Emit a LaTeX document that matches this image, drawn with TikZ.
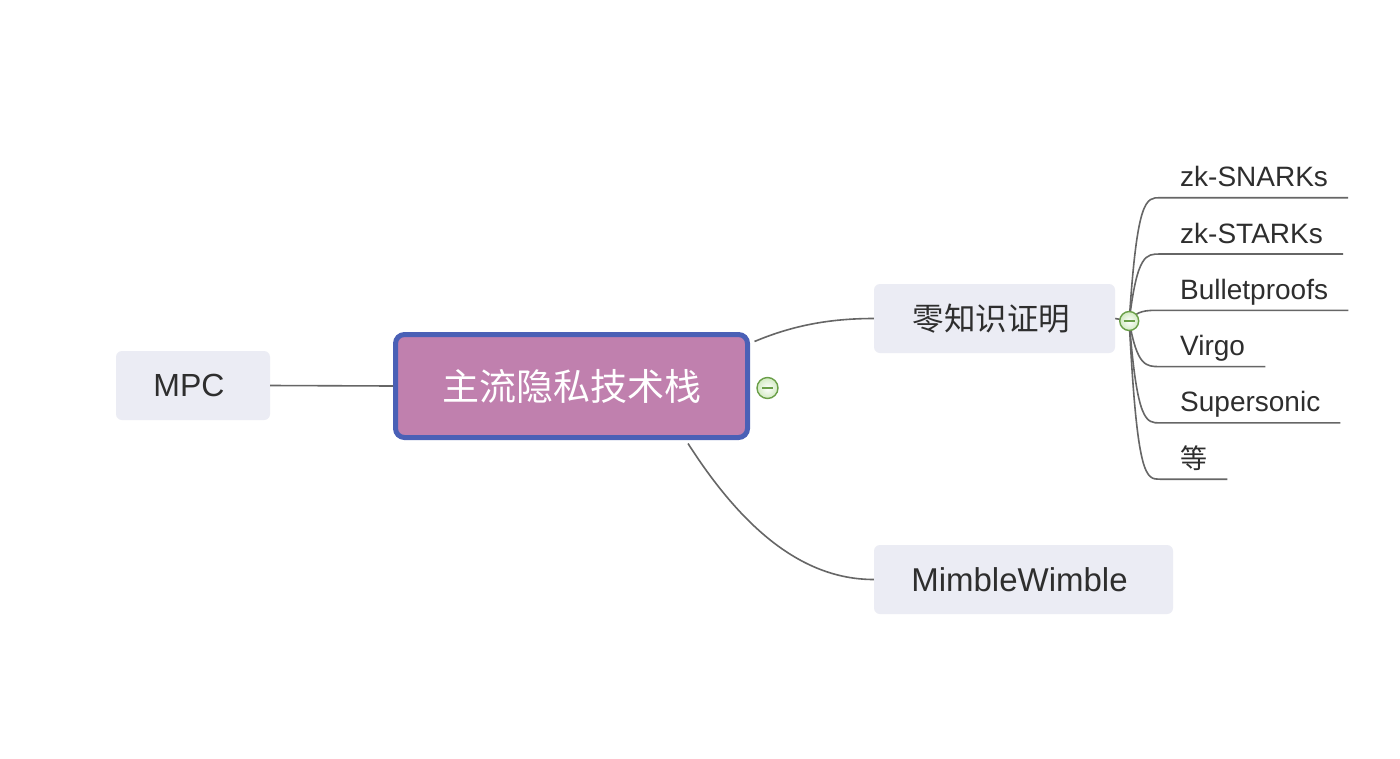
\documentclass[tikz,border=0pt]{standalone}
\usepackage{fontspec}
\setmainfont{Liberation Sans}
\newfontfamily\cjk{Noto Sans CJK SC}
\usetikzlibrary{calc}
\definecolor{boxfill}{HTML}{EBECF4}
\definecolor{mainfill}{HTML}{C080AE}
\definecolor{mainborder}{HTML}{4A60B6}
\definecolor{txt}{HTML}{2E2E2E}
\definecolor{lineclr}{HTML}{666666}
\definecolor{icongreen}{HTML}{6A9F48}
\definecolor{iconfill}{HTML}{D2EAC2}
\begin{document}
\begin{tikzpicture}[x=1pt,y=-1pt,
  topic/.style={fill=boxfill, rounded corners=6pt, text=txt, minimum height=69pt, inner sep=0pt},
  mainbox/.style={fill=mainfill, draw=mainborder, line width=5pt, rounded corners=9pt,
    minimum width=352pt, minimum height=103pt, text=white, inner sep=0pt,
    font=\cjk\fontsize{37}{40}\selectfont},
  leaf/.style={anchor=base west, inner sep=0pt, text=txt, font=\fontsize{28}{30}\selectfont},
  connector/.style={draw=lineclr, line width=1.6pt},
  toggle/.style={circle, draw=icongreen, line width=1.4pt, inner color=white, outer color=iconfill,
    minimum size=21pt, inner sep=0pt,
    path picture={\draw[icongreen, line width=1.5pt]
      ($(path picture bounding box.center)+(-5.5,0)$) -- ++(11,0);}}
]
\useasboundingbox (0,0) rectangle (1400,758);
\fill[white] (0,0) rectangle (1400,758);

% topics
\node[mainbox] (main) at (571.5,386) {主流隐私技术栈};
\node[topic, minimum width=154pt, font=\fontsize{32}{36}\selectfont] (mpc) at (193,385.5) {MPC\hspace*{8pt}};
\node[topic, minimum width=241pt, font=\cjk\fontsize{31.5}{36}\selectfont] (zk) at (994.5,318.5) {零知识证明\hspace*{6pt}};
\node[topic, minimum width=299pt, font=\fontsize{33}{36}\selectfont] (mw) at (1023.5,579.5) {MimbleWimble\hspace*{8pt}};

% leaves
\node[leaf] (l1) at (1180,186.7) {zk-SNARKs};
\node[leaf] (l2) at (1180,243.0) {zk-STARKs};
\node[leaf] (l3) at (1180,299.3) {Bulletproofs};
\node[leaf] (l4) at (1180,355.6) {Virgo};
\node[leaf] (l5) at (1180,411.9) {Supersonic};
\node[leaf, font=\cjk\fontsize{27}{30}\selectfont] (l6) at (1180,468.2) {等};

% connectors main
\coordinate (mainUp) at ($(main.north east)+(4.5,9.5)$);
\coordinate (mainDown) at ($(main.south)+(116.5,3.5)$);
\draw[connector] (mpc.east) -- (main.west);
\draw[connector] (mainUp) .. controls +(38,-16) and +(-44,0) .. (zk.west);
\draw[connector] (mainDown) .. controls +(50,78) and +(-76,0) .. (mw.west);

% hub of leaves
\coordinate (hub) at ($(zk.east)+(14,2.5)$);
\draw[connector] (zk.east) -- (hub);
\foreach \i in {1,...,6}{
  \coordinate (u\i) at ($(l\i.base west)+(-20,11)$);
  \coordinate (v\i) at ($(l\i.base east)+(20,11)$);
  \draw[connector] (hub) .. controls ($(hub |- u\i)+(8,0)$) and ($(u\i)+(-14,0)$) .. (u\i) -- (v\i);
}

% collapse toggles
\node[toggle] (t1) at ($(main.east)+(17.5,2)$) {};
\node[toggle, minimum size=19pt] (t2) at (hub) {};
\end{tikzpicture}
\end{document}
